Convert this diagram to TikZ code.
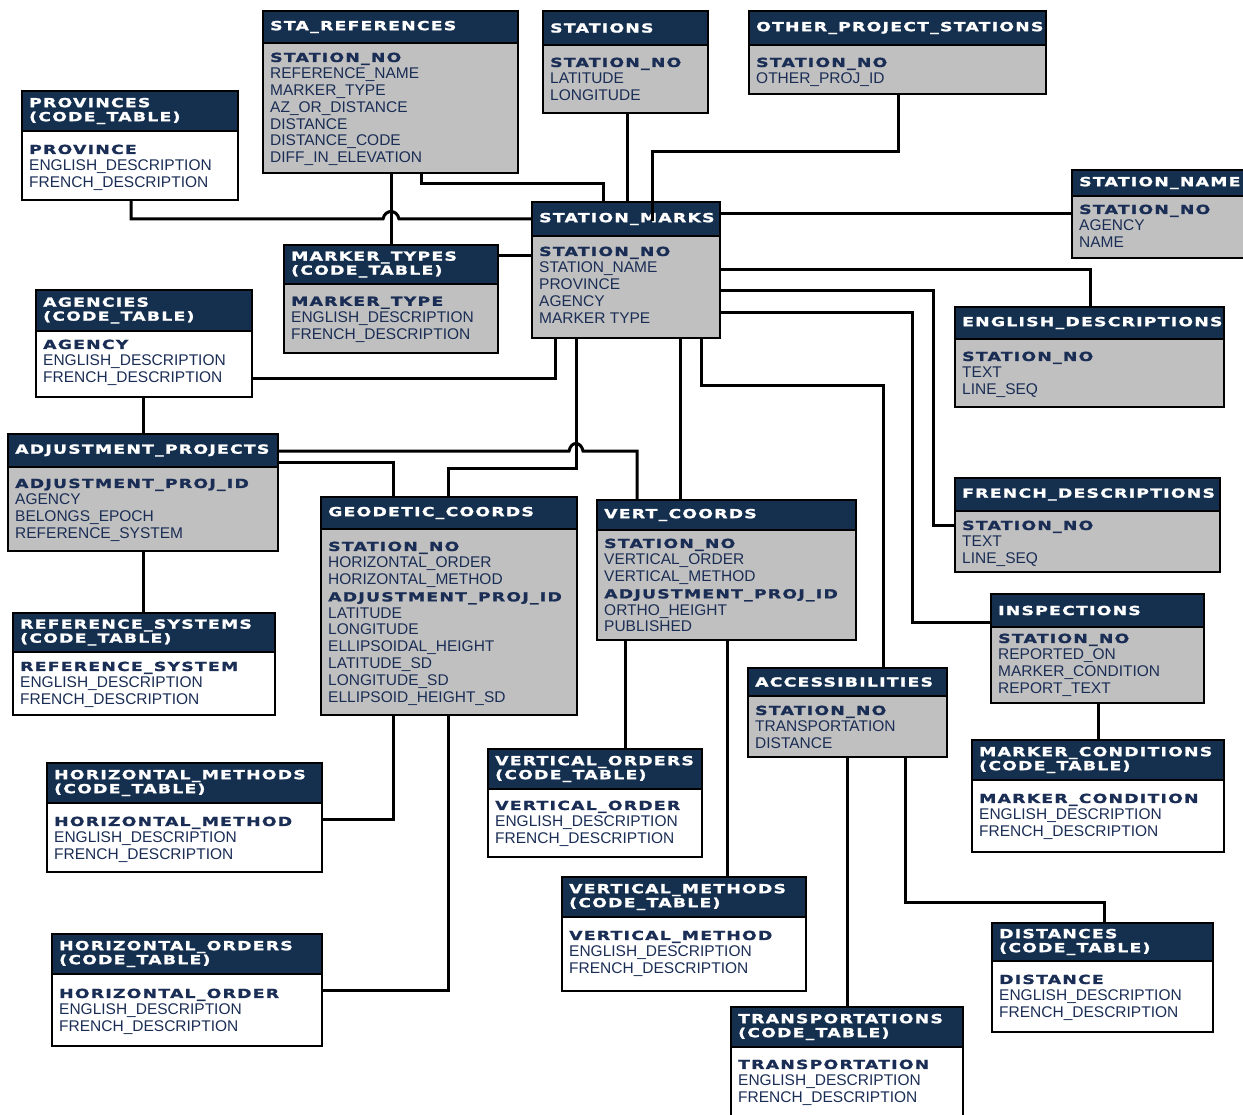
\documentclass[tikz,border=0pt]{standalone}
\usepackage{fontspec}
\setmainfont{Liberation Sans}
\newfontface\keyfont[FakeStretch=1.38,LetterSpace=10,FakeBold=1.5]{DejaVu Sans Bold}
\usetikzlibrary{positioning}
\definecolor{hdrnavy}{HTML}{15304F}
\definecolor{tablegray}{HTML}{C0C0C0}
\definecolor{ink}{HTML}{1A2D55}
\newcommand{\keyf}[1]{{\keyfont\fontsize{12.5}{16.8}\selectfont #1}}
\newcommand{\dbtable}[8]{\node[tablebox,fill=#7,minimum width=#4pt-#2pt,minimum height=#5pt-#3pt,anchor=north west] (#1) at (#2,#3) {};\coordinate (#1-hd) at (#2,#6);
\fill[hdrnavy] (#1.north west) rectangle (#4,#6);\draw[tableframe] (#1.north west) rectangle (#1.south east) (#1-hd) -- (#4,#6);
\node[hdrtext,anchor=west] (#1-t) at ({#2+7},{(#3+#6)/2}) {#8};}

\begin{document}
\begin{tikzpicture}[x=1pt,y=-1pt,tableframe/.style={draw=black,line width=2.6pt},link/.style={draw=black,line width=3pt},
 tablebox/.style={inner sep=0,outer sep=0},hdrtext/.style={text=white,inner sep=0,align=left,font=\keyfont\fontsize{12.5}{14}\selectfont},
 fields/.style={text=ink,inner sep=0,align=left,font=\fontsize{15.5}{16.8}\selectfont}]
\useasboundingbox[fill=white] (0,0) rectangle (1243,1115);
% tables
\dbtable{sr}{263}{11}{518}{173}{43}{tablegray}{STA\_REFERENCES}
\node[fields,below right=9.5pt and 7pt of sr-hd] (sr-f) {\keyf{STATION\_NO}\\REFERENCE\_NAME\\MARKER\_TYPE\\AZ\_OR\_DISTANCE\\DISTANCE\\DISTANCE\_CODE\\DIFF\_IN\_ELEVATION};
\dbtable{st}{543}{11}{708}{113}{45}{tablegray}{STATIONS}
\node[fields,below right=12.5pt and 7pt of st-hd] (st-f) {\keyf{STATION\_NO}\\LATITUDE\\LONGITUDE};
\dbtable{ops}{749}{11}{1046}{94}{45}{tablegray}{OTHER\_PROJECT\_STATIONS}
\node[fields,below right=12.5pt and 7pt of ops-hd] (ops-f) {\keyf{STATION\_NO}\\OTHER\_PROJ\_ID};
\dbtable{pv}{22}{91}{238}{200}{131}{white}{PROVINCES\\(CODE\_TABLE)}
\node[fields,below right=13.5pt and 7pt of pv-hd] (pv-f) {\keyf{PROVINCE}\\ENGLISH\_DESCRIPTION\\FRENCH\_DESCRIPTION};
\dbtable{sn}{1072}{170}{1250}{258}{196}{tablegray}{STATION\_NAME}
\node[fields,below right=8.5pt and 7pt of sn-hd] (sn-f) {\keyf{STATION\_NO}\\AGENCY\\NAME};
\dbtable{sm}{532}{202}{720}{338}{236}{tablegray}{STATION\_MARKS}
\node[fields,below right=10.5pt and 7pt of sm-hd] (sm-f) {\keyf{STATION\_NO}\\STATION\_NAME\\PROVINCE\\AGENCY\\MARKER TYPE};
\dbtable{mt}{284}{245}{498}{353}{284}{tablegray}{MARKER\_TYPES\\(CODE\_TABLE)}
\node[fields,below right=12.5pt and 7pt of mt-hd] (mt-f) {\keyf{MARKER\_TYPE}\\ENGLISH\_DESCRIPTION\\FRENCH\_DESCRIPTION};
\dbtable{ag}{36}{290}{252}{397}{331}{white}{AGENCIES\\(CODE\_TABLE)}
\node[fields,below right=8.5pt and 7pt of ag-hd] (ag-f) {\keyf{AGENCY}\\ENGLISH\_DESCRIPTION\\FRENCH\_DESCRIPTION};
\dbtable{ed}{955}{307}{1224}{407}{339}{tablegray}{ENGLISH\_DESCRIPTIONS}
\node[fields,below right=12.5pt and 7pt of ed-hd] (ed-f) {\keyf{STATION\_NO}\\TEXT\\LINE\_SEQ};
\dbtable{ap}{8}{434}{278}{551}{467}{tablegray}{ADJUSTMENT\_PROJECTS}
\node[fields,below right=11.5pt and 7pt of ap-hd] (ap-f) {\keyf{ADJUSTMENT\_PROJ\_ID}\\AGENCY\\BELONGS\_EPOCH\\REFERENCE\_SYSTEM};
\dbtable{fd}{955}{478}{1220}{572}{511}{tablegray}{FRENCH\_DESCRIPTIONS}
\node[fields,below right=9.5pt and 7pt of fd-hd] (fd-f) {\keyf{STATION\_NO}\\TEXT\\LINE\_SEQ};
\dbtable{gc}{321}{497}{577}{715}{529}{tablegray}{GEODETIC\_COORDS}
\node[fields,below right=12.5pt and 7pt of gc-hd] (gc-f) {\keyf{STATION\_NO}\\HORIZONTAL\_ORDER\\HORIZONTAL\_METHOD\\\keyf{ADJUSTMENT\_PROJ\_ID}\\LATITUDE\\LONGITUDE\\ELLIPSOIDAL\_HEIGHT\\LATITUDE\_SD\\LONGITUDE\_SD\\ELLIPSOID\_HEIGHT\_SD};
\dbtable{vc}{597}{500}{856}{640}{530}{tablegray}{VERT\_COORDS}
\node[fields,below right=8.5pt and 7pt of vc-hd] (vc-f) {\keyf{STATION\_NO}\\VERTICAL\_ORDER\\VERTICAL\_METHOD\\\keyf{ADJUSTMENT\_PROJ\_ID}\\ORTHO\_HEIGHT\\PUBLISHED};
\dbtable{insp}{991}{594}{1204}{703}{627}{tablegray}{INSPECTIONS}
\node[fields,below right=6.5pt and 7pt of insp-hd] (insp-f) {\keyf{STATION\_NO}\\REPORTED\_ON\\MARKER\_CONDITION\\REPORT\_TEXT};
\dbtable{rs}{13}{613}{275}{715}{652}{white}{REFERENCE\_SYSTEMS\\(CODE\_TABLE)}
\node[fields,below right=9.5pt and 7pt of rs-hd] (rs-f) {\keyf{REFERENCE\_SYSTEM}\\ENGLISH\_DESCRIPTION\\FRENCH\_DESCRIPTION};
\dbtable{ac}{748}{668}{947}{757}{696}{tablegray}{ACCESSIBILITIES}
\node[fields,below right=9.5pt and 7pt of ac-hd] (ac-f) {\keyf{STATION\_NO}\\TRANSPORTATION\\DISTANCE};
\dbtable{hm}{47}{763}{322}{872}{803}{white}{HORIZONTAL\_METHODS\\(CODE\_TABLE)}
\node[fields,below right=13.5pt and 7pt of hm-hd] (hm-f) {\keyf{HORIZONTAL\_METHOD}\\ENGLISH\_DESCRIPTION\\FRENCH\_DESCRIPTION};
\dbtable{vo}{488}{749}{702}{857}{789}{white}{VERTICAL\_ORDERS\\(CODE\_TABLE)}
\node[fields,below right=11.5pt and 7pt of vo-hd] (vo-f) {\keyf{VERTICAL\_ORDER}\\ENGLISH\_DESCRIPTION\\FRENCH\_DESCRIPTION};
\dbtable{mc}{972}{740}{1224}{852}{780}{white}{MARKER\_CONDITIONS\\(CODE\_TABLE)}
\node[fields,below right=13.5pt and 7pt of mc-hd] (mc-f) {\keyf{MARKER\_CONDITION}\\ENGLISH\_DESCRIPTION\\FRENCH\_DESCRIPTION};
\dbtable{vm}{562}{877}{806}{991}{917}{white}{VERTICAL\_METHODS\\(CODE\_TABLE)}
\node[fields,below right=13.5pt and 7pt of vm-hd] (vm-f) {\keyf{VERTICAL\_METHOD}\\ENGLISH\_DESCRIPTION\\FRENCH\_DESCRIPTION};
\dbtable{ho}{52}{934}{322}{1046}{974}{white}{HORIZONTAL\_ORDERS\\(CODE\_TABLE)}
\node[fields,below right=14.5pt and 7pt of ho-hd] (ho-f) {\keyf{HORIZONTAL\_ORDER}\\ENGLISH\_DESCRIPTION\\FRENCH\_DESCRIPTION};
\dbtable{ds}{992}{923}{1213}{1032}{961}{white}{DISTANCES\\(CODE\_TABLE)}
\node[fields,below right=13.5pt and 7pt of ds-hd] (ds-f) {\keyf{DISTANCE}\\ENGLISH\_DESCRIPTION\\FRENCH\_DESCRIPTION};
\dbtable{tr}{731}{1007}{963}{1120}{1047}{white}{TRANSPORTATIONS\\(CODE\_TABLE)}
\node[fields,below right=12.5pt and 7pt of tr-hd] (tr-f) {\keyf{TRANSPORTATION}\\ENGLISH\_DESCRIPTION\\FRENCH\_DESCRIPTION};
% relations
\coordinate (smhit) at (652,221);
\draw[link] (pv.south -| 131,0) |- (383,219) .. controls (385,209) and (397,209) .. (399,219) -- (sm.west |- 0,219);
\draw[link] (sr.south -| 391,0) -- (mt.north -| 391,0);
\draw[link] (sr.south -| 421,0) |- (603,184) -- (sm.north -| 603,0);
\draw[link] (st.south -| 627,0) -- (sm.north -| 627,0);
\draw[link] (ops.south -| 898,0) |- (652,152) -- (smhit);
\draw[link] (mt.east |- 0,256) -- (sm.west |- 0,256);
\draw[link] (sm.east |- 0,214) -- (sn.west |- 0,214);
\draw[link] (sm.east |- 0,270) -| (ed.north -| 1090,0);
\draw[link] (sm.east |- 0,291) -| (933,525) -- (fd.west |- 0,525);
\draw[link] (sm.east |- 0,313) -| (912,622) -- (insp.west |- 0,622);
\draw[link] (sm.south -| 701,0) |- (883,386) -- (ac.north -| 883,0);
\draw[link] (sm.south -| 680,0) -- (vc.north -| 680,0);
\draw[link] (sm.south -| 576,0) |- (448,468) -- (gc.north -| 448,0);
\draw[link] (sm.south -| 555,0) |- (ag.east |- 0,379);
\draw[link] (ag.south -| 143,0) -- (ap.north -| 143,0);
\draw[link] (ap.south -| 143,0) -- (rs.north -| 143,0);
\draw[link] (ap.east |- 0,451) -- (569,451) .. controls (571,441) and (581,441) .. (583,451) -| (vc.north -| 637,0);
\draw[link] (ap.east |- 0,462) -| (gc.north -| 393,0);
\draw[link] (gc.south -| 393,0) |- (hm.east |- 0,819);
\draw[link] (gc.south -| 448,0) |- (ho.east |- 0,990);
\draw[link] (vc.south -| 625,0) -- (vo.north -| 625,0);
\draw[link] (vc.south -| 727,0) -- (vm.north -| 727,0);
\draw[link] (insp.south -| 1098,0) -- (mc.north -| 1098,0);
\draw[link] (ac.south -| 847,0) -- (tr.north -| 847,0);
\draw[link] (ac.south -| 905,0) |- (1104,902) -- (ds.north -| 1104,0);
\end{tikzpicture}
\end{document}
